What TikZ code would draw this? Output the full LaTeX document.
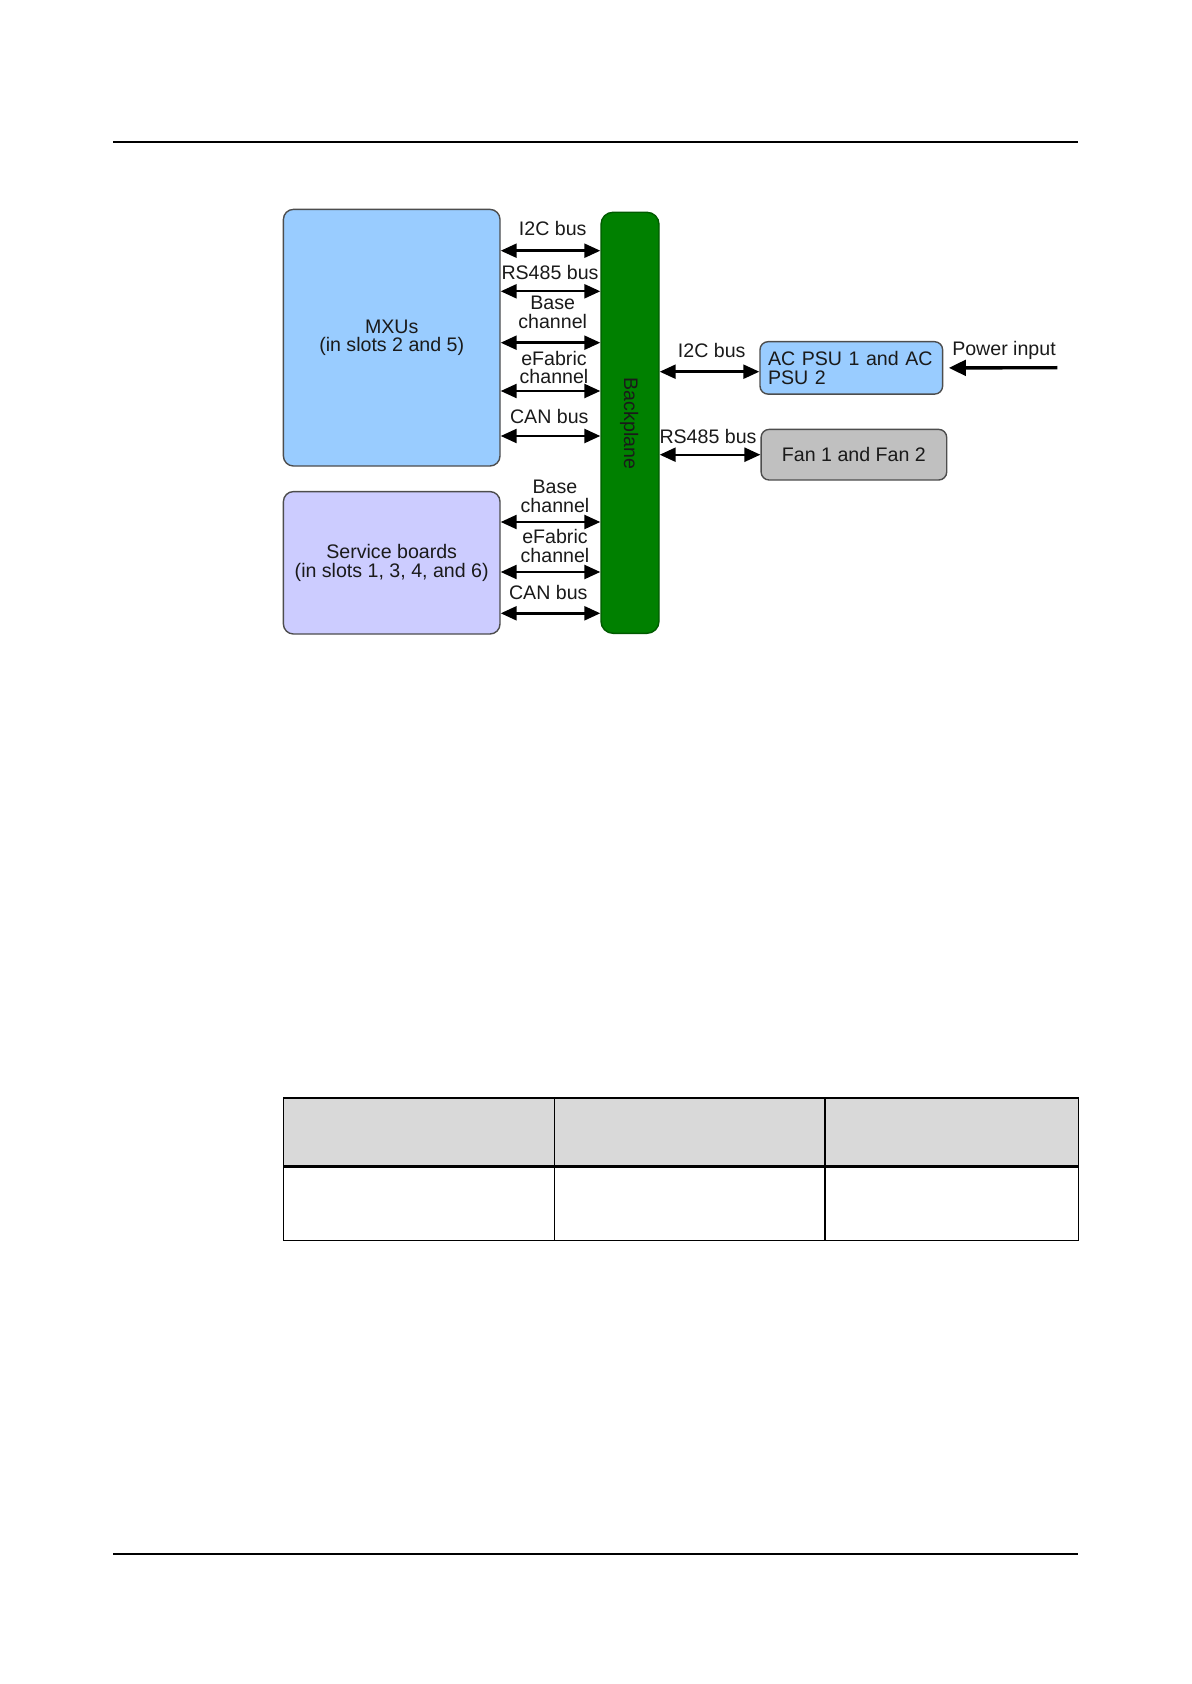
\documentclass[tikz,border=0pt]{standalone}
\usepackage{fontspec}
\setmainfont{Liberation Sans}
\usepackage{xcolor}
\definecolor{cMxu}{HTML}{99CCFF}
\definecolor{cSvc}{HTML}{CCCCFF}
\definecolor{cFan}{HTML}{C0C0C0}
\definecolor{cBkp}{HTML}{008000}
\definecolor{cBkpLine}{HTML}{005A00}
\definecolor{cLine}{HTML}{4D4D4D}
\definecolor{cText}{HTML}{1A1A1A}
\definecolor{cHead}{HTML}{D9D9D9}
\usepackage{tikz}
\usetikzlibrary{arrows.meta}
\tikzset{
  node-board/.style={draw=cLine,line width=0.7pt,rounded corners=5pt,
    align=center,inner sep=0pt,text=cText,font=\fontsize{9.8}{9.2}\selectfont},
  node-mxu/.style={node-board,fill=cMxu},
  node-svc/.style={node-board,fill=cSvc},
  node-fan/.style={node-board,fill=cFan,rounded corners=4pt},
  node-bkp/.style={draw=cBkpLine,line width=0.7pt,fill=cBkp,rounded corners=6pt,
    inner sep=0pt,text=cText,font=\fontsize{9.8}{9.2}\selectfont},
  bus-label/.style={align=center,inner sep=0pt,text=cText,
    font=\fontsize{9.8}{9.2}\selectfont},
  arrow-bus/.style={{Triangle[length=8pt,width=7pt]}-{Triangle[length=8pt,width=7pt]},
    line width=1.2pt,draw=black},
  arrow-power/.style={-{Triangle[length=8.5pt,width=7.8pt]},line width=1.7pt,draw=black},
  page-rule/.style={line width=0.65pt,draw=black},
}
\begin{document}
\begin{tikzpicture}[x=0.5pt,y=-0.5pt]
  \useasboundingbox (0,0) rectangle (1191,1684);
  % page rules
  \draw[page-rule] (113,142) -- (1078,142);
  \draw[page-rule] (113,1554) -- (1078,1554);

  % boards
  \node[node-mxu,minimum width=108.3pt,minimum height=128.3pt] (mxu) at (391.7,337.7)
    {MXUs\\(in slots 2 and 5)};
  \node[node-svc,minimum width=108.3pt,minimum height=71.2pt] (svc) at (391.7,562.8)
    {Service boards\\(in slots 1, 3, 4, and 6)};
  \node[node-bkp,minimum width=29pt,minimum height=210.5pt] (bkp) at (630,422.8) {};
  \node[bus-label,rotate=-90] (bkp-text) at (629.3,423.3) {Backplane};
  \node[node-mxu,minimum width=91.3pt,minimum height=26.2pt,align=left,
    text width=83.3pt,rounded corners=4pt] (psu) at (851.3,367.9)
    {AC PSU 1 and AC\\PSU 2};
  \node[node-fan,minimum width=92.8pt,minimum height=25.3pt] (fan) at (853.9,454.7)
    {Fan 1 and Fan 2};
  \coordinate (pwr) at (1057.3,367.7);

  % MXU <-> backplane
  \draw[arrow-bus] (mxu.east |- 0,250.7) -- (bkp.west |- 0,250.7);
  \draw[arrow-bus] (mxu.east |- 0,291.3) -- (bkp.west |- 0,291.3);
  \draw[arrow-bus] (mxu.east |- 0,342.7) -- (bkp.west |- 0,342.7);
  \draw[arrow-bus] (mxu.east |- 0,391)   -- (bkp.west |- 0,391);
  \draw[arrow-bus] (mxu.east |- 0,436)   -- (bkp.west |- 0,436);
  \node[bus-label] (lb-m-i2c)  at (552.7,228.3) {I2C bus};
  \node[bus-label] (lb-m-rs)   at (550,272.7)   {RS485 bus};
  \node[bus-label] (lb-m-base) at (552.7,312.5) {Base\\channel};
  \node[bus-label] (lb-m-efab) at (554,367.5)   {eFabric\\channel};
  \node[bus-label] (lb-m-can)  at (549.3,416.7) {CAN bus};

  % service boards <-> backplane
  \draw[arrow-bus] (svc.east |- 0,522)   -- (bkp.west |- 0,522);
  \draw[arrow-bus] (svc.east |- 0,572)   -- (bkp.west |- 0,572);
  \draw[arrow-bus] (svc.east |- 0,613.3) -- (bkp.west |- 0,613.3);
  \node[bus-label] (lb-s-base) at (555,496.2)   {Base\\channel};
  \node[bus-label] (lb-s-efab) at (555,546)     {eFabric\\channel};
  \node[bus-label] (lb-s-can)  at (548.3,592.7) {CAN bus};

  % backplane <-> PSU / fans
  \draw[arrow-bus] (bkp.east |- 0,371.7) -- (psu.west |- 0,371.7);
  \draw[arrow-bus] (bkp.east |- fan.west) -- (fan.west);
  \draw[arrow-power] (pwr) -- ([xshift=2.8pt]psu.east);
  \node[bus-label] (lb-p-i2c) at (711.7,350.7) {I2C bus};
  \node[bus-label] (lb-f-rs)  at (708,436.7)   {RS485 bus};
  \node[bus-label] (lb-pwr)   at (1004,350)    {Power input};

  % empty table
  \fill[cHead] (283.6,1097.7) rectangle (1078.4,1166.5);
  \draw[line width=0.6pt] (554.2,1097.7) -- (554.2,1240.6);
  \draw[line width=0.6pt] (824.9,1097.7) -- (824.9,1240.6);
  \draw[line width=1.1pt] (283.6,1166.5) -- (1078.4,1166.5);
  \draw[line width=0.8pt] (283.6,1097.7) rectangle (1078.4,1240.6);
\end{tikzpicture}
\end{document}
